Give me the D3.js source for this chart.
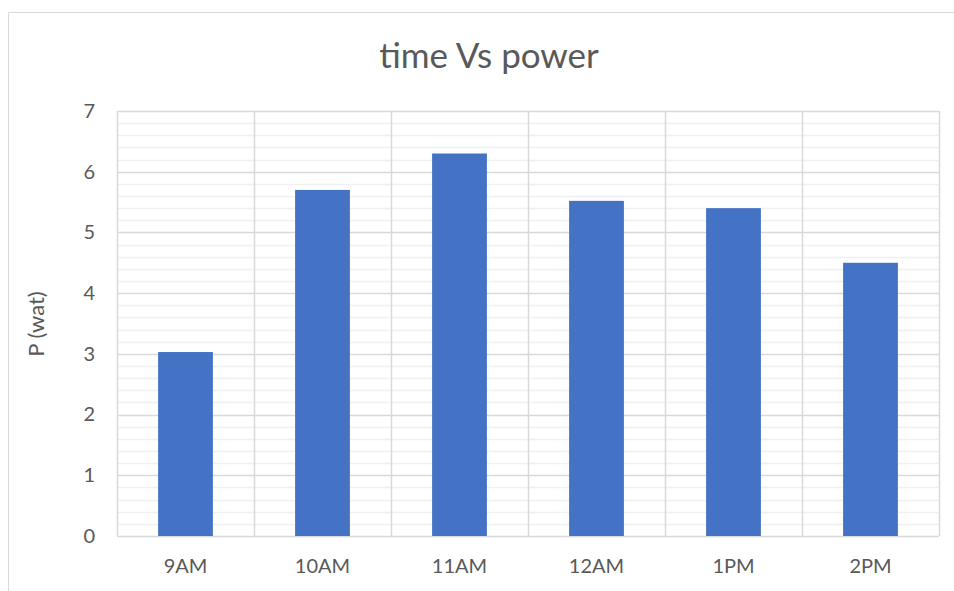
<!DOCTYPE html>
<html>
<head>
<meta charset="utf-8">
<script src="https://cdn.jsdelivr.net/npm/d3@7"></script>
<style>
  html, body { margin: 0; padding: 0; background: #fff; }
  svg { display: block; font-family: Lato, "Open Sans", sans-serif; }
</style>
</head>
<body>
<svg id="chart" width="954" height="591"></svg>
<script>
const categories = ["9AM", "10AM", "11AM", "12AM", "1PM", "2PM"];
const powerValues = [3.03, 5.70, 6.30, 5.52, 5.40, 4.50];
const yTicks = [0, 1, 2, 3, 4, 5, 6, 7];
const chartTitle = "time Vs power";
const yAxisTitle = "P (wat)";

const svg = d3.select("#chart");
const W = 954, H = 591;
const plot = { left: 117, right: 939, top: 111, bottom: 536 };

// outer chart frame (top and left edges visible)
svg.append("line").attr("x1", 8.5).attr("x2", W).attr("y1", 12.5).attr("y2", 12.5)
  .attr("stroke", "#d9d9d9").attr("stroke-width", 1);
svg.append("line").attr("x1", 8.5).attr("x2", 8.5).attr("y1", 12.5).attr("y2", H)
  .attr("stroke", "#d9d9d9").attr("stroke-width", 1);

const x = d3.scaleBand().domain(categories).range([plot.left, plot.right]).paddingInner(0).paddingOuter(0);
const y = d3.scaleLinear().domain([0, 7]).range([plot.bottom, plot.top]);

// minor gridlines every 0.2
const minorTicks = d3.range(0, 7.0001, 0.2).filter(v => Math.abs(v - Math.round(v)) > 1e-6);
svg.append("g").selectAll("line").data(minorTicks).join("line")
  .attr("x1", plot.left).attr("x2", plot.right)
  .attr("y1", d => Math.round(y(d)) + 0.5).attr("y2", d => Math.round(y(d)) + 0.5)
  .attr("stroke", "#f0f0f0").attr("stroke-width", 1.5);

// major horizontal gridlines
svg.append("g").selectAll("line").data(yTicks).join("line")
  .attr("x1", plot.left).attr("x2", plot.right)
  .attr("y1", d => Math.round(y(d)) + 0.5).attr("y2", d => Math.round(y(d)) + 0.5)
  .attr("stroke", "#d9d9d9").attr("stroke-width", 1.5);

// vertical gridlines at category boundaries
const bounds = categories.map(c => x(c)).concat([plot.right]);
svg.append("g").selectAll("line").data(bounds).join("line")
  .attr("x1", d => Math.round(d) + 0.5).attr("x2", d => Math.round(d) + 0.5)
  .attr("y1", plot.top).attr("y2", plot.bottom)
  .attr("stroke", "#d9d9d9").attr("stroke-width", 1.5);

// bars (width 40% of category band)
const barW = x.bandwidth() * 0.4;
svg.append("g").selectAll("rect").data(categories).join("rect")
  .attr("x", (d) => x(d) + (x.bandwidth() - barW) / 2)
  .attr("width", barW)
  .attr("y", (d, i) => y(powerValues[i]))
  .attr("height", (d, i) => y(0) - y(powerValues[i]))
  .attr("fill", "#4472c4");

// axes
const yAxis = d3.axisLeft(y).tickValues(yTicks).tickSize(0).tickPadding(22).tickFormat(d3.format("d"));
const gy = svg.append("g").attr("transform", `translate(${plot.left},0)`).call(yAxis);
gy.select(".domain").remove();
gy.selectAll("text").attr("fill", "#595959").attr("font-size", 20).attr("font-family", "Lato, 'Open Sans', sans-serif");

const xAxis = d3.axisBottom(x).tickSize(0).tickPadding(23);
const gx = svg.append("g").attr("transform", `translate(0,${plot.bottom})`).call(xAxis);
gx.select(".domain").remove();
gx.selectAll("text").attr("fill", "#595959").attr("font-size", 20).attr("font-family", "Lato, 'Open Sans', sans-serif");

// title
svg.append("text").attr("x", 489).attr("y", 68).attr("text-anchor", "middle")
  .attr("fill", "#595959").attr("font-size", 35).text(chartTitle);

// y axis title
svg.append("text").attr("transform", `translate(44,324) rotate(-90)`).attr("text-anchor", "middle")
  .attr("fill", "#595959").attr("font-size", 22).text(yAxisTitle);
</script>
</body>
</html>
